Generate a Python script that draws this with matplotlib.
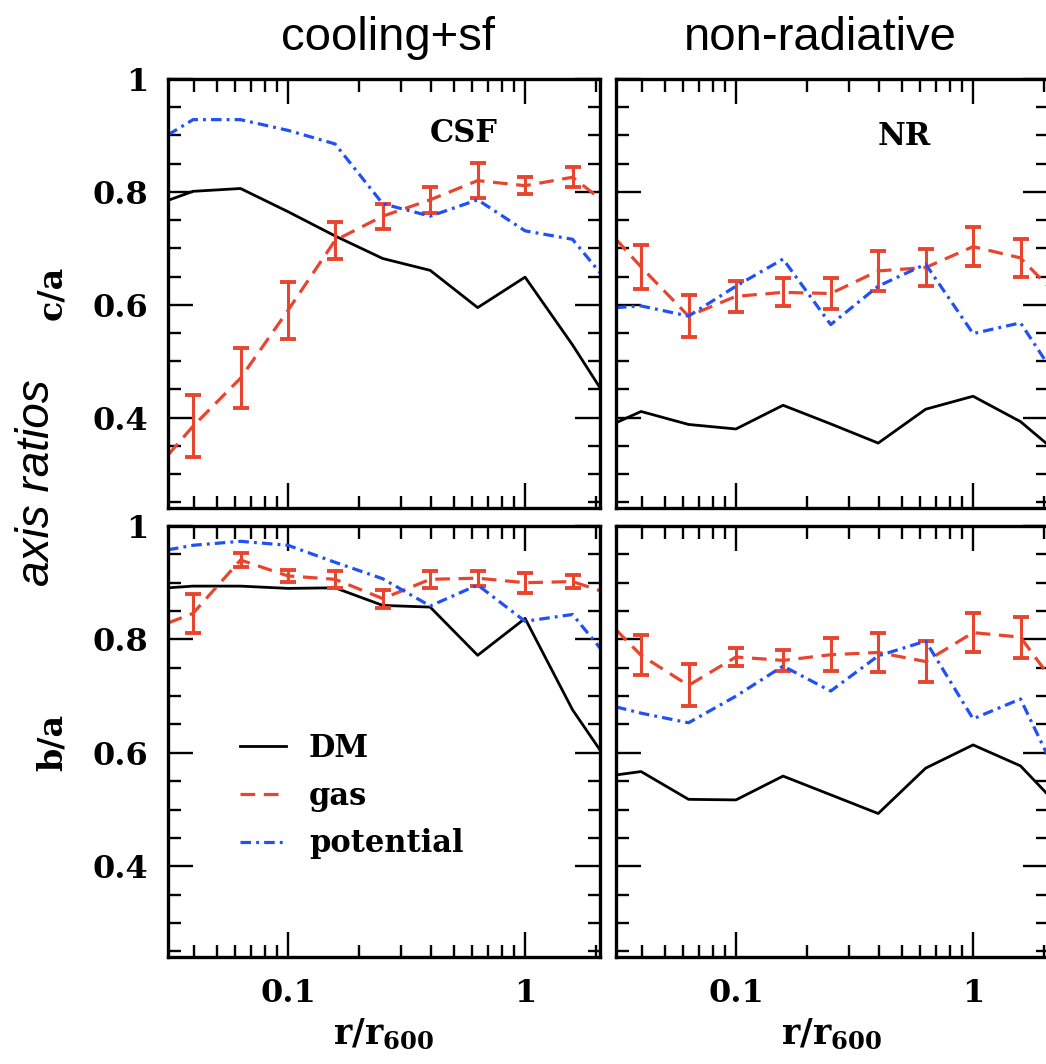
import numpy as np
import matplotlib
matplotlib.use('Agg')
import matplotlib.pyplot as plt
from matplotlib.ticker import MultipleLocator, LogLocator, FuncFormatter, NullFormatter

plt.rcParams['font.family'] = 'DejaVu Serif'
plt.rcParams['font.weight'] = 'bold'
plt.rcParams['mathtext.fontset'] = 'dejavuserif'

# radios de los bines (r/r600), los extremos son los bordes del eje
r = [0.0312, 0.0398, 0.0631, 0.1, 0.158, 0.251, 0.398, 0.631, 1.0, 1.585, 2.07]

# c/a, corrida con enfriamiento y formacion estelar (CSF)
dm_c_csf = [0.785, 0.801, 0.806, 0.765, 0.722, 0.682, 0.661, 0.595, 0.649, 0.529, 0.453]
gas_c_csf = [0.334, 0.385, 0.470, 0.590, 0.714, 0.757, 0.786, 0.820, 0.811, 0.826, 0.788]
gas_c_csf_err = [0.055, 0.053, 0.050, 0.032, 0.022, 0.023, 0.031, 0.015, 0.018]
pot_c_csf = [0.901, 0.928, 0.928, 0.909, 0.885, 0.779, 0.757, 0.786, 0.731, 0.716, 0.657]

# c/a, corrida no radiativa (NR)
dm_c_nr = [0.391, 0.411, 0.388, 0.380, 0.422, 0.389, 0.355, 0.415, 0.438, 0.393, 0.352]
gas_c_nr = [0.716, 0.667, 0.580, 0.615, 0.622, 0.620, 0.660, 0.666, 0.703, 0.683, 0.633]
gas_c_nr_err = [0.039, 0.037, 0.028, 0.025, 0.028, 0.035, 0.033, 0.034, 0.033]
pot_c_nr = [0.595, 0.598, 0.580, 0.633, 0.681, 0.565, 0.633, 0.672, 0.549, 0.568, 0.494]

# b/a, CSF
dm_b_csf = [0.891, 0.894, 0.894, 0.890, 0.891, 0.860, 0.857, 0.772, 0.837, 0.676, 0.605]
gas_b_csf = [0.829, 0.846, 0.940, 0.912, 0.906, 0.872, 0.906, 0.908, 0.900, 0.902, 0.886]
gas_b_csf_err = [0.034, 0.013, 0.011, 0.015, 0.016, 0.015, 0.013, 0.018, 0.012]
pot_b_csf = [0.958, 0.966, 0.973, 0.966, 0.936, 0.907, 0.859, 0.896, 0.832, 0.844, 0.785]

# b/a, NR
dm_b_nr = [0.561, 0.567, 0.518, 0.517, 0.559, 0.526, 0.493, 0.573, 0.614, 0.577, 0.526]
gas_b_nr = [0.817, 0.772, 0.719, 0.769, 0.763, 0.773, 0.777, 0.761, 0.812, 0.804, 0.738]
gas_b_nr_err = [0.035, 0.037, 0.016, 0.019, 0.029, 0.035, 0.036, 0.035, 0.036]
pot_b_nr = [0.681, 0.670, 0.653, 0.700, 0.753, 0.709, 0.771, 0.797, 0.660, 0.695, 0.594]

rojo = '#e8452f'
azul = '#2150f5'

fig = plt.figure(figsize=(10.46, 10.64), dpi=100)
W, H = 1046.0, 1064.0

#Se calcula la caja de cada panel en pixeles
def caja(x0, x1, y0, y1):
    return [x0 / W, 1 - y1 / H, (x1 - x0) / W, (y1 - y0) / H]

#Se dibuja un panel con las tres curvas
def panel(ax, dm, gas, gas_err, pot):
    ax.plot(r, dm, color='k', lw=2.0, label='DM')
    ax.plot(r, gas, color=rojo, lw=2.3, ls=(0, (4.6, 2.7)), label='gas')
    ax.errorbar(r[1:-1], gas[1:-1], yerr=gas_err, fmt='none', ecolor=rojo,
                elinewidth=2.2, capsize=5.5, capthick=2.8)
    ax.plot(r, pot, color=azul, lw=2.3, ls=(0, (3.3, 1.6, 0.9, 1.6)), label='potential')
    ax.set_xscale('log')
    ax.set_xlim(0.0312, 2.07)
    ax.set_ylim(0.24, 1.0)
    ax.yaxis.set_major_locator(MultipleLocator(0.2))
    ax.yaxis.set_minor_locator(MultipleLocator(0.05))
    ax.xaxis.set_major_locator(LogLocator(base=10))
    ax.xaxis.set_minor_locator(LogLocator(base=10, subs=np.arange(2, 10)))
    ax.xaxis.set_minor_formatter(NullFormatter())
    fmt = FuncFormatter(lambda v, p: '%g' % v)
    ax.xaxis.set_major_formatter(fmt)
    ax.yaxis.set_major_formatter(fmt)
    ax.tick_params(which='both', direction='in', top=True, right=True, width=1.7,
                   labelsize=23)
    ax.tick_params(which='major', length=18)
    ax.tick_params(which='minor', length=9)
    ax.tick_params(axis='y', pad=14)
    ax.tick_params(axis='x', pad=15)
    for s in ax.spines.values():
        s.set_linewidth(2.4)

ax1 = fig.add_axes(caja(168, 600, 79, 508))
ax2 = fig.add_axes(caja(616, 1048, 79, 508))
ax3 = fig.add_axes(caja(168, 600, 526, 957))
ax4 = fig.add_axes(caja(616, 1048, 526, 957))

panel(ax1, dm_c_csf, gas_c_csf, gas_c_csf_err, pot_c_csf)
panel(ax2, dm_c_nr, gas_c_nr, gas_c_nr_err, pot_c_nr)
panel(ax3, dm_b_csf, gas_b_csf, gas_b_csf_err, pot_b_csf)
panel(ax4, dm_b_nr, gas_b_nr, gas_b_nr_err, pot_b_nr)

ax1.tick_params(labelbottom=False)
ax2.tick_params(labelbottom=False, labelleft=False)
ax4.tick_params(labelleft=False)

ax1.text(0.685, 0.872, 'CSF', transform=ax1.transAxes, ha='center', va='center', fontsize=22)
ax2.text(0.667, 0.865, 'NR', transform=ax2.transAxes, ha='center', va='center', fontsize=22)

ax3.legend(loc='upper left', bbox_to_anchor=(0.167, 0.52), frameon=False, fontsize=22,
           handlelength=1.5, handletextpad=0.75, labelspacing=0.55,
           borderpad=0, borderaxespad=0)

#Etiquetas de los ejes
fig.text(52 / W, 1 - 293 / H, 'c/a', rotation=90, ha='center', va='center', fontsize=24)
fig.text(52 / W, 1 - 742 / H, 'b/a', rotation=90, ha='center', va='center', fontsize=24)
fig.text(384 / W, 1 - 1035 / H, r'$\mathbf{r/r_{600}}$', ha='center', va='center', fontsize=25)
fig.text(832 / W, 1 - 1035 / H, r'$\mathbf{r/r_{600}}$', ha='center', va='center', fontsize=25)

fig.text(37 / W, 1 - 483 / H, 'axis ratios', rotation=90, ha='center', va='center',
         fontsize=33, family='Liberation Sans', style='italic', weight='normal')
fig.text(388 / W, 1 - 38 / H, 'cooling+sf', ha='center', va='center', fontsize=34,
         family='Liberation Sans', weight='normal')
fig.text(820 / W, 1 - 38 / H, 'non-radiative', ha='center', va='center', fontsize=34,
         family='Liberation Sans', weight='normal')

fig.savefig('out.png', dpi=100)
